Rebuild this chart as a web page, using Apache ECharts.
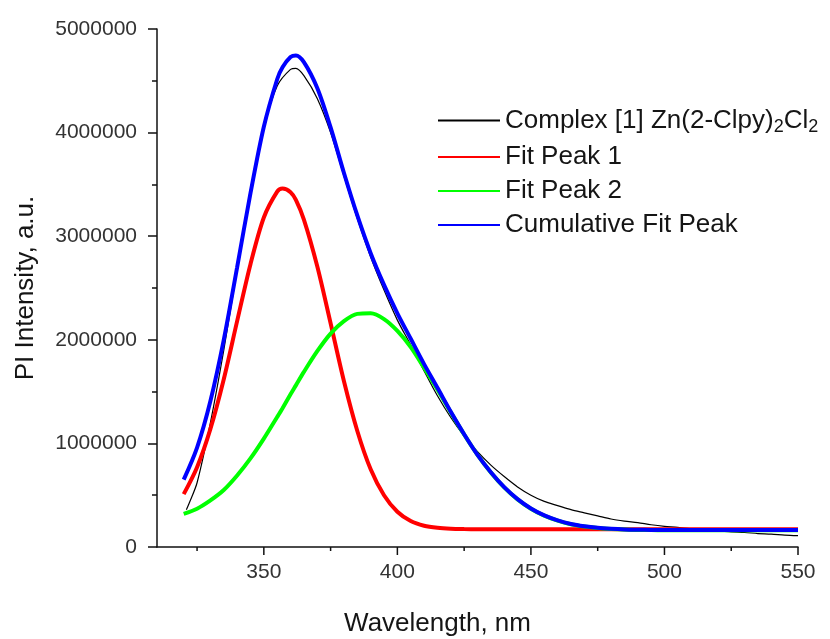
<!DOCTYPE html>
<html>
<head>
<meta charset="utf-8">
<script src="https://cdn.jsdelivr.net/npm/echarts@6/dist/echarts.min.js"></script>
<style>
html,body{margin:0;padding:0;background:#fff;}
#chart{width:830px;height:639px;}
</style>
</head>
<body>
<div id="chart"></div>
<script>
// Wavelength grid (nm) for the fitted curves
const fitWavelengths = [320,325,330,335,340,345,350,355,357,360,362,365,370,375,380,385,390,395,400,405,410,415,420,425,430,435,440,445,450,455,460,465,470,475,480,485,490,495,500,505,510,515,520,525,530,535,540,545,550];
// Fit Peak 1 (red)
const peak1Values = [0.51,0.77,1.14,1.62,2.18,2.73,3.18,3.43,3.46,3.425,3.35,3.16,2.71,2.16,1.60,1.12,0.75,0.50,0.34,0.25,0.205,0.185,0.176,0.173,0.172,0.172,0.172,0.172,0.172,0.172,0.172,0.172,0.172,0.172,0.172,0.172,0.172,0.172,0.172,0.172,0.172,0.172,0.172,0.172,0.172,0.172,0.172,0.172,0.172];
// Fit Peak 2 (green)
const peak2Values = [0.32,0.37,0.45,0.55,0.69,0.855,1.046,1.255,1.34,1.474,1.56,1.69,1.89,2.06,2.18,2.25,2.256,2.20,2.086,1.93,1.73,1.52,1.30,1.086,0.89,0.72,0.576,0.46,0.37,0.303,0.255,0.22,0.198,0.183,0.174,0.168,0.165,0.163,0.162,0.162,0.162,0.162,0.162,0.162,0.162,0.162,0.162,0.162,0.162];
// Cumulative Fit Peak (blue)
const cumulativeValues = [0.65,0.96,1.41,2.0,2.70,3.415,4.056,4.515,4.63,4.729,4.745,4.68,4.43,4.05,3.61,3.20,2.836,2.53,2.256,2.01,1.765,1.537,1.306,1.089,0.89,0.722,0.578,0.462,0.372,0.305,0.257,0.222,0.20,0.185,0.176,0.17,0.167,0.165,0.164,0.164,0.164,0.164,0.164,0.164,0.164,0.164,0.164,0.164,0.164];
// Measured spectrum (black)
const dataWavelengths = [321,322,325,330,335,340,345,350,355,360,362,365,370,375,380,385,390,395,400,405,410,415,420,425,430,435,440,445,450,455,460,465,470,475,480,485,490,495,500,505,510,515,520,525,530,535,540,545,550];
const dataValues = [0.36,0.42,0.62,1.20,1.90,2.68,3.45,4.05,4.45,4.61,4.62,4.55,4.33,4.00,3.58,3.17,2.80,2.48,2.19,1.95,1.70,1.46,1.25,1.07,0.92,0.79,0.68,0.58,0.50,0.44,0.40,0.36,0.33,0.30,0.27,0.25,0.235,0.215,0.20,0.19,0.175,0.16,0.155,0.145,0.14,0.13,0.125,0.115,0.11];
// Axis ticks
const xMajorTicks = [350,400,450,500,550];
const xMinorTicks = [325,375,425,475,525];
const SCALE = 1e6;

const pair = (xs, ys) => xs.map((x, i) => [x, ys[i] * SCALE]);
const tickData = xMajorTicks.map(v => [v, 1]).concat(xMinorTicks.map(v => [v, 0]));

const NAME_DATA = 'Complex [1] Zn(2-Clpy)2Cl2';
const chart = echarts.init(document.getElementById('chart'));
const FONT = 'Liberation Sans, Arial, sans-serif';
const TXT = '#151515';

chart.setOption({
  animation: false,
  backgroundColor: '#fff',
  grid: {left: 157, right: 32, top: 29, bottom: 92, containLabel: false, outerBoundsMode: 'none'},
  legend: {
    orient: 'vertical',
    left: 432, top: 100,
    itemWidth: 62, itemHeight: 24, itemGap: 8,
    itemStyle: {opacity: 0},
    data: [NAME_DATA, 'Fit Peak 1', 'Fit Peak 2', 'Cumulative Fit Peak'],
    textStyle: {
      fontFamily: FONT, fontSize: 26, color: TXT, lineHeight: 24,
      rich: {
        n: {fontFamily: FONT, fontSize: 26, color: TXT, lineHeight: 24},
        s: {fontFamily: FONT, fontSize: 18, color: TXT, lineHeight: 24, padding: [13, 0, 0, 0]}
      }
    },
    formatter: function (name) {
      if (name === NAME_DATA) {
        return '{n|Complex [1] Zn(2-Clpy)}{s|2}{n|Cl}{s|2}';
      }
      return name;
    }
  },
  xAxis: {
    type: 'value', min: 310, max: 550, interval: 10,
    name: 'Wavelength, nm', nameLocation: 'middle', nameGap: 64,
    nameTextStyle: {fontFamily: FONT, fontSize: 26, color: TXT, padding: [0, 80, 0, 0]},
    axisLine: {show: true, onZero: false, lineStyle: {color: '#111', width: 1.5}},
    axisTick: {show: false},
    splitLine: {show: false},
    axisLabel: {
      margin: 15, fontFamily: FONT, fontSize: 21, color: '#333',
      formatter: function (v) { return (v % 50 === 0 && v >= 350) ? String(v) : ''; }
    }
  },
  yAxis: {
    type: 'value', min: 0, max: 5000000, interval: 1000000,
    name: 'PI Intensity, a.u.', nameLocation: 'middle', nameGap: 118,
    nameTextStyle: {fontFamily: FONT, fontSize: 26, color: TXT},
    axisLine: {show: true, lineStyle: {color: '#111', width: 1.5}},
    axisTick: {show: true, inside: false, length: 9, lineStyle: {color: '#111', width: 1.5}},
    minorTick: {show: true, splitNumber: 2, length: 5, lineStyle: {color: '#111', width: 1.5}},
    splitLine: {show: false},
    minorSplitLine: {show: false},
    axisLabel: {margin: 20, fontFamily: FONT, fontSize: 21, color: '#333',
      formatter: function (v) { return String(v); }}
  },
  series: [
    {
      name: NAME_DATA, type: 'line', data: pair(dataWavelengths, dataValues),
      showSymbol: false, symbol: 'none', smooth: 0.3,
      lineStyle: {color: '#000', width: 1.2}, itemStyle: {color: '#000'}, z: 2
    },
    {
      name: 'Fit Peak 1', type: 'line', data: pair(fitWavelengths, peak1Values),
      showSymbol: false, symbol: 'none', smooth: 0.3,
      lineStyle: {color: '#ff0000', width: 4}, itemStyle: {color: '#ff0000'}, z: 3
    },
    {
      name: 'Fit Peak 2', type: 'line', data: pair(fitWavelengths, peak2Values),
      showSymbol: false, symbol: 'none', smooth: 0.3,
      lineStyle: {color: '#00ff00', width: 4}, itemStyle: {color: '#00ff00'}, z: 3
    },
    {
      name: 'Cumulative Fit Peak', type: 'line', data: pair(fitWavelengths, cumulativeValues),
      showSymbol: false, symbol: 'none', smooth: 0.3,
      lineStyle: {color: '#0000ff', width: 4}, itemStyle: {color: '#0000ff'}, z: 4
    },
    {
      name: 'xticks', type: 'custom', data: tickData, clip: false, silent: true, z: 10,
      renderItem: function (params, api) {
        const p = api.coord([api.value(0), 0]);
        const len = api.value(1) === 1 ? 8 : 4;
        return {type: 'line', shape: {x1: p[0], y1: p[1], x2: p[0], y2: p[1] + len},
                style: {stroke: '#111', lineWidth: 1.5}};
      }
    }
  ]
});
</script>
</body>
</html>
